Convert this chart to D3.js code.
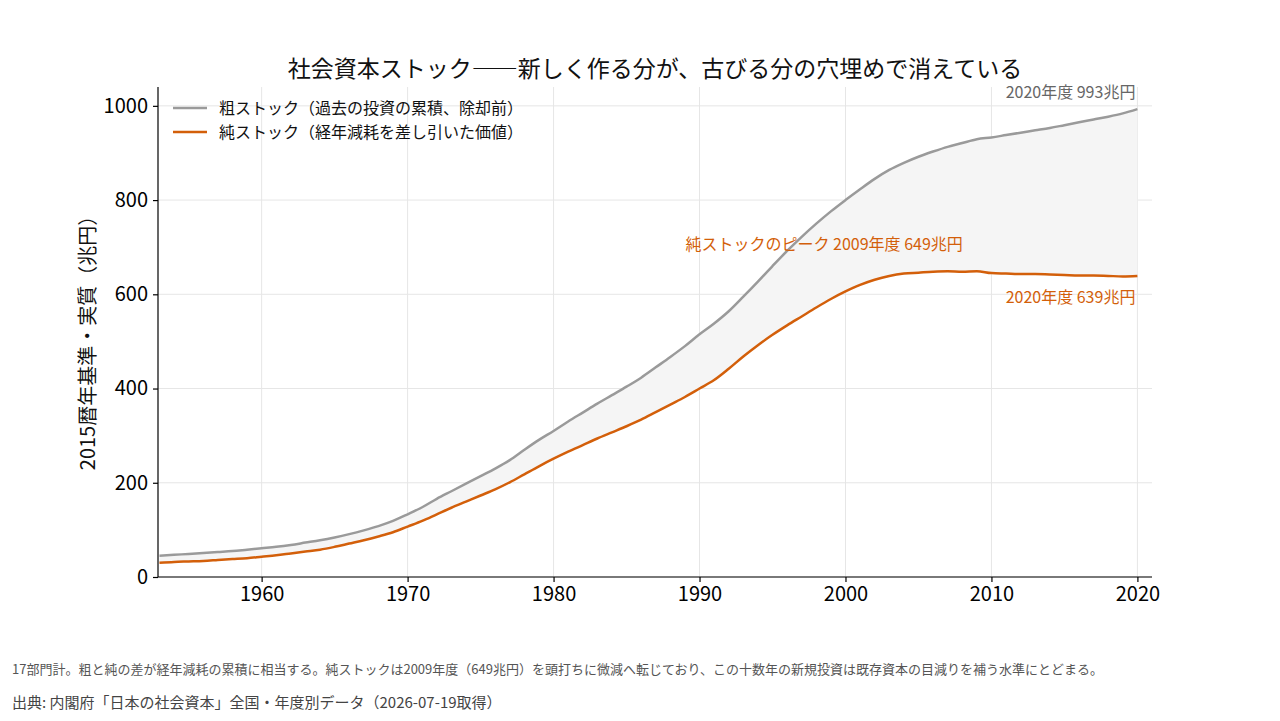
<!DOCTYPE html>
<html><head><meta charset="utf-8">
<script src="https://cdn.jsdelivr.net/npm/d3@7"></script>
<style>
html,body{margin:0;padding:0;background:#fff;}
text{font-family:"Noto Sans CJK JP","Noto Sans",sans-serif;}
</style></head>
<body><svg id="c" width="1280" height="721"></svg>
<script>
const years = d3.range(1953, 2021);
const grossStock = [45,47,49,51,53,55,58,61,64,68,73,78,84,91,99,108,119,133,148,166,182,198,214,230,248,270,291,310,330,349,368,386,404,423,445,467,490,515,538,564,595,627,660,692,722,750,776,800,823,845,864,879,892,903,913,921,929,933,938,943,948,953,959,965,971,977,984,993];
const netStock = [30,32,33,34,36,38,40,43,46,50,54,58,64,71,78,86,95,107,119,133,147,160,173,186,201,218,235,251,266,280,294,307,320,334,350,366,382,400,418,442,468,492,514,534,553,572,590,606,620,631,639,644,646,648,649,648,649,645,644,643,643,642,641,640,640,639,638,639];
const xTicks = [1960,1970,1980,1990,2000,2010,2020];
const yTicks = [0,200,400,600,800,1000];
const seriesNames = ["粗ストック（過去の投資の累積、除却前）","純ストック（経年減耗を差し引いた価値）"];
const titleText = "社会資本ストック――新しく作る分が、古びる分の穴埋めで消えている";
const yLabel = "2015暦年基準・実質（兆円）";
const annGross = "2020年度 993兆円";
const annPeak = "純ストックのピーク 2009年度 649兆円";
const annNet = "2020年度 639兆円";
const note = "17部門計。粗と純の差が経年減耗の累積に相当する。純ストックは2009年度（649兆円）を頭打ちに微減へ転じており、この十数年の新規投資は既存資本の目減りを補う水準にとどまる。";
const source = "出典: 内閣府「日本の社会資本」全国・年度別データ（2026-07-19取得）";

const grayC = "#9a9a9a", orangeC = "#d35f0a";
const data = years.map((y,i)=>({y, g:grossStock[i], n:netStock[i]}));

const svg = d3.select("#c");
const L=158, R=1152, T=87, B=577;
const x = d3.scaleLinear().domain([1952.9, 2021]).range([L,R]);
const y = d3.scaleLinear().domain([0, 1040]).range([B,T]);

// grid
svg.append("g").selectAll("line").data(xTicks).join("line")
  .attr("x1",d=>x(d)).attr("x2",d=>x(d)).attr("y1",T).attr("y2",B)
  .attr("stroke","#e6e6e6").attr("stroke-width",1);
svg.append("g").selectAll("line").data(yTicks).join("line")
  .attr("x1",L).attr("x2",R).attr("y1",d=>y(d)).attr("y2",d=>y(d))
  .attr("stroke","#e6e6e6").attr("stroke-width",1);

// fill between
svg.append("path").datum(data)
  .attr("d", d3.area().x(d=>x(d.y)).y0(d=>y(d.n)).y1(d=>y(d.g)).curve(d3.curveMonotoneX))
  .attr("fill","#f5f5f5");

// lines
svg.append("path").datum(data)
  .attr("d", d3.line().x(d=>x(d.y)).y(d=>y(d.g)).curve(d3.curveMonotoneX))
  .attr("fill","none").attr("stroke",grayC).attr("stroke-width",2.5);
svg.append("path").datum(data)
  .attr("d", d3.line().x(d=>x(d.y)).y(d=>y(d.n)).curve(d3.curveMonotoneX))
  .attr("fill","none").attr("stroke",orangeC).attr("stroke-width",2.5);

// axes
const xa = svg.append("g").attr("transform",`translate(0,${B})`)
  .call(d3.axisBottom(x).tickValues(xTicks).tickFormat(d3.format("d")).tickSize(5).tickPadding(5));
const ya = svg.append("g").attr("transform",`translate(${L},0)`)
  .call(d3.axisLeft(y).tickValues(yTicks).tickFormat(d3.format("d")).tickSize(5).tickPadding(5));
[xa,ya].forEach(a=>{
  a.select(".domain").attr("stroke","#000").attr("stroke-width",1.2);
  a.selectAll(".tick line").attr("stroke","#000").attr("stroke-width",1.2);
  a.selectAll(".tick text").attr("fill","#000").style("font-size","20px")
   .style("font-family",'"Noto Sans CJK JP","Noto Sans",sans-serif');
});
xa.select(".domain").attr("d",`M${L},0H${R}`);
ya.select(".domain").attr("d",`M0,${B}V${T}`);

// title
svg.append("text").attr("x",655).attr("y",77).attr("text-anchor","middle")
  .style("font-size","23px").attr("fill","#111").text(titleText);

// y label
svg.append("text").attr("transform",`translate(95,${(T+B)/2+6}) rotate(-90)`)
  .attr("text-anchor","middle").style("font-size","20px").attr("fill","#111").text(yLabel);

// legend
const leg = svg.append("g");
[[grayC,108],[orangeC,132]].forEach((c,i)=>{
  leg.append("line").attr("x1",173).attr("x2",207).attr("y1",c[1]).attr("y2",c[1])
    .attr("stroke",c[0]).attr("stroke-width",2.5);
  leg.append("text").attr("x",219).attr("y",c[1]+5.5).style("font-size","16px")
    .attr("fill","#111").text(seriesNames[i]);
});

// annotations
svg.append("text").attr("x",x(2020)-2).attr("y",y(993)-11).attr("text-anchor","end")
  .style("font-size","16px").attr("fill","#666").text(annGross);
svg.append("text").attr("x",x(2009)-14).attr("y",y(649)-21).attr("text-anchor","end")
  .style("font-size","16px").attr("fill",orangeC).text(annPeak);
svg.append("text").attr("x",x(2020)-2).attr("y",y(639)+27).attr("text-anchor","end")
  .style("font-size","16px").attr("fill",orangeC).text(annNet);

// footnotes
svg.append("text").attr("x",12).attr("y",674).style("font-size","13px")
  .attr("fill","#555").text(note);
svg.append("text").attr("x",12).attr("y",708).style("font-size","15px")
  .attr("fill","#444").text(source);
</script></body></html>
